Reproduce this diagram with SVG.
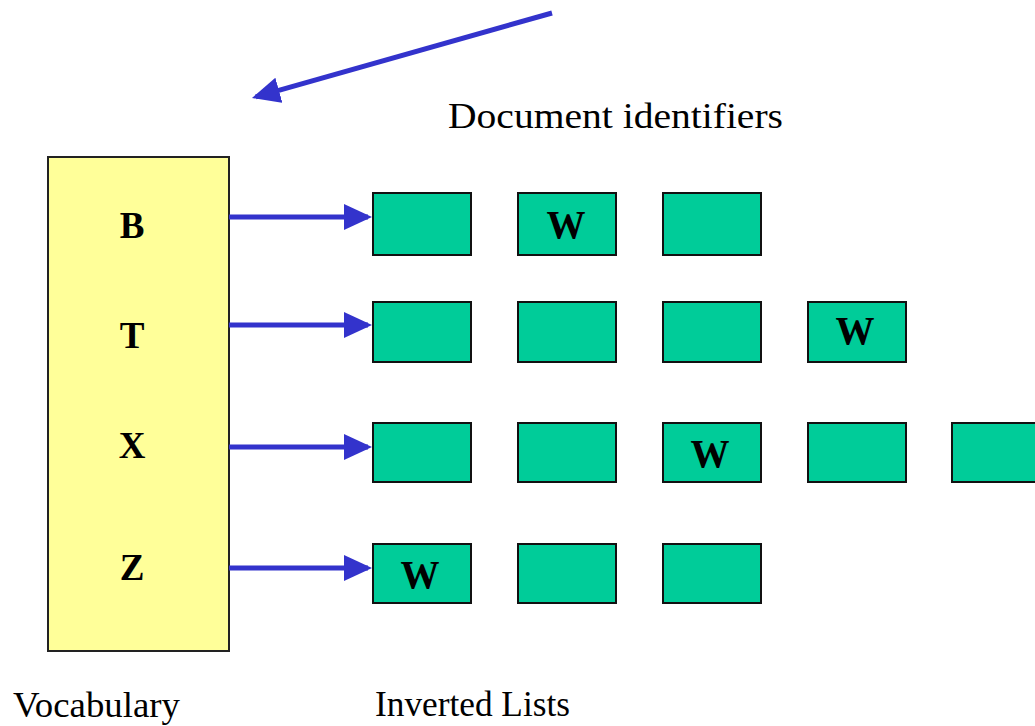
<svg xmlns="http://www.w3.org/2000/svg" width="1035" height="726" viewBox="0 0 1035 726">
<style>
.lbl{font-family:"Liberation Serif","Times New Roman",serif;font-size:36px;fill:#000}
.key{font-family:"Liberation Serif","Times New Roman",serif;font-size:37px;font-weight:bold;fill:#000;text-anchor:middle}
.w{font-size:39px}
.doc{fill:#00CC99;stroke:#111;stroke-width:2}
.conn{stroke:#3333CC;stroke-width:5;fill:none}
</style>
<defs>
<marker id="ah" markerUnits="userSpaceOnUse" markerWidth="30" markerHeight="30" refX="24" refY="13" orient="auto">
<path d="M0,0 L28,13 L0,26 Z" fill="#3333CC"/>
</marker>
</defs>
<rect width="1035" height="726" fill="#fff"/>
<g id="vocabulary">
<rect x="48" y="157" width="181" height="494" fill="#FFFF99" stroke="#222" stroke-width="2"/>
<text class="key" x="132" y="238">B</text>
<text class="key" x="132" y="348">T</text>
<text class="key" x="132" y="458">X</text>
<text class="key" x="132" y="580">Z</text>
</g>
<g id="connectors">
<line class="conn" x1="552" y1="13" x2="255.8" y2="96.9" marker-end="url(#ah)"/>
<line class="conn" x1="229" y1="217" x2="368" y2="217" marker-end="url(#ah)"/>
<line class="conn" x1="229" y1="325" x2="368" y2="325" marker-end="url(#ah)"/>
<line class="conn" x1="229" y1="447" x2="368" y2="447" marker-end="url(#ah)"/>
<line class="conn" x1="229" y1="568" x2="368" y2="568" marker-end="url(#ah)"/>
</g>
<g id="list-b">
<rect class="doc" x="373" y="193" width="98" height="62"/>
<rect class="doc" x="518" y="193" width="98" height="62"/>
<text class="key w" x="566" y="238">W</text>
<rect class="doc" x="663" y="193" width="98" height="62"/>
</g>
<g id="list-t">
<rect class="doc" x="373" y="302" width="98" height="60"/>
<rect class="doc" x="518" y="302" width="98" height="60"/>
<rect class="doc" x="663" y="302" width="98" height="60"/>
<rect class="doc" x="808" y="302" width="98" height="60"/>
<text class="key w" x="855" y="344">W</text>
</g>
<g id="list-x">
<rect class="doc" x="373" y="423" width="98" height="59"/>
<rect class="doc" x="518" y="423" width="98" height="59"/>
<rect class="doc" x="663" y="423" width="98" height="59"/>
<text class="key w" x="710" y="467">W</text>
<rect class="doc" x="808" y="423" width="98" height="59"/>
<rect class="doc" x="952" y="423" width="98" height="59"/>
</g>
<g id="list-z">
<rect class="doc" x="373" y="544" width="98" height="59"/>
<text class="key w" x="420" y="588">W</text>
<rect class="doc" x="518" y="544" width="98" height="59"/>
<rect class="doc" x="663" y="544" width="98" height="59"/>
</g>
<g id="labels">
<text class="lbl" x="448" y="128" textLength="335" lengthAdjust="spacingAndGlyphs">Document identifiers</text>
<text class="lbl" x="13" y="717" textLength="167" lengthAdjust="spacingAndGlyphs">Vocabulary</text>
<text class="lbl" x="375" y="716" textLength="195" lengthAdjust="spacingAndGlyphs">Inverted Lists</text>
</g>
</svg>
